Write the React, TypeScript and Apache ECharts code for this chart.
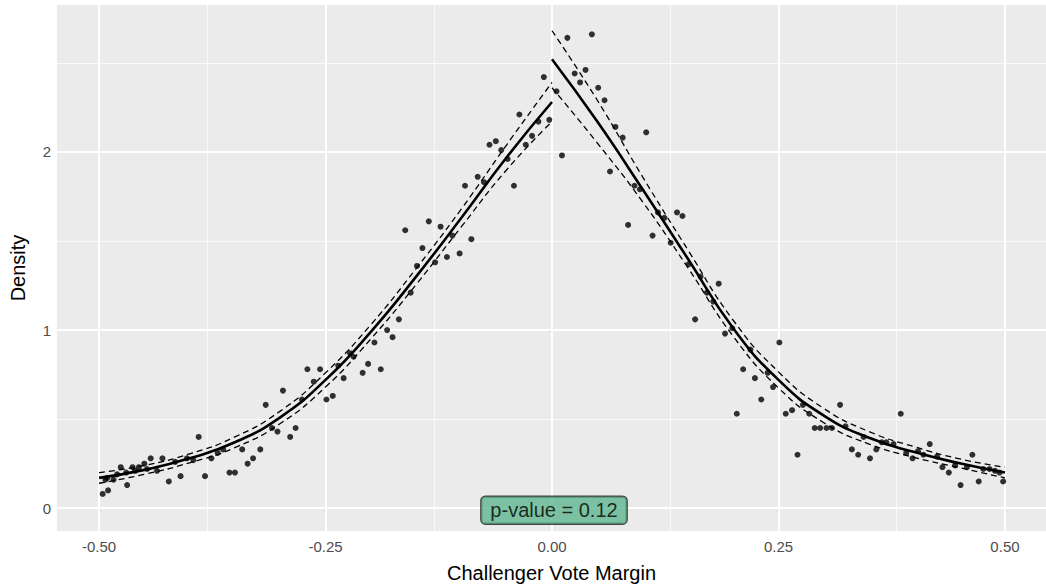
import React, { useEffect, useRef } from "react";
import * as echarts from "echarts";

// Binned density points (x = challenger vote margin, y = density)
const binX: number[] = [
  -0.496, -0.49, -0.493, -0.491, -0.484, -0.48, -0.476, -0.47, -0.469, -0.463, -0.46, -0.456, -0.45, -0.447,
  -0.443, -0.436, -0.43, -0.423, -0.416, -0.41, -0.403, -0.396, -0.39, -0.383, -0.376, -0.369, -0.363,
  -0.356, -0.35, -0.342, -0.336, -0.33, -0.322, -0.316, -0.309, -0.303, -0.297, -0.289, -0.283, -0.276,
  -0.27, -0.263, -0.256, -0.249, -0.242, -0.236, -0.23, -0.223, -0.219, -0.209, -0.203, -0.196, -0.189,
  -0.182, -0.176, -0.169, -0.162, -0.156, -0.149, -0.143, -0.136, -0.129, -0.123, -0.116, -0.11, -0.102,
  -0.096, -0.089, -0.082, -0.075, -0.069, -0.062, -0.056, -0.049, -0.042, -0.036, -0.029, -0.022, -0.015,
  -0.009, -0.003,
  0.005, 0.011, 0.017, 0.025, 0.031, 0.037, 0.044, 0.051, 0.058, 0.064, 0.07, 0.078, 0.084, 0.091, 0.097,
  0.104, 0.111, 0.117, 0.124, 0.131, 0.138, 0.144, 0.151, 0.158, 0.164, 0.171, 0.178, 0.184, 0.191, 0.199,
  0.204, 0.211, 0.219, 0.224, 0.231, 0.238, 0.244, 0.251, 0.258, 0.265, 0.271, 0.277, 0.284, 0.29, 0.296,
  0.303, 0.309, 0.318, 0.324, 0.331, 0.338, 0.344, 0.351, 0.358, 0.364, 0.369, 0.377, 0.385, 0.391, 0.398,
  0.404, 0.41, 0.417, 0.425, 0.431, 0.438, 0.445, 0.451, 0.458, 0.464, 0.471, 0.476, 0.483, 0.489, 0.494,
  0.498,
];
const binY: number[] = [
  0.08, 0.1, 0.16, 0.17, 0.16, 0.19, 0.23, 0.2, 0.13, 0.23, 0.21, 0.23, 0.25, 0.22,
  0.28, 0.21, 0.28, 0.15, 0.26, 0.18, 0.28, 0.27, 0.4, 0.18, 0.28, 0.31, 0.33,
  0.2, 0.2, 0.33, 0.25, 0.28, 0.33, 0.58, 0.45, 0.43, 0.66, 0.4, 0.45, 0.61,
  0.78, 0.71, 0.78, 0.61, 0.63, 0.8, 0.73, 0.87, 0.85, 0.76, 0.81, 0.93, 0.78,
  1.0, 0.96, 1.06, 1.56, 1.21, 1.36, 1.46, 1.61, 1.38, 1.58, 1.41, 1.53, 1.43,
  1.81, 1.51, 1.86, 1.83, 2.04, 2.06, 2.01, 1.96, 1.81, 2.21, 2.04, 2.09, 2.17,
  2.42, 2.18,
  2.34, 1.98, 2.64, 2.44, 2.39, 2.46, 2.66, 2.36, 2.29, 1.89, 2.14, 2.08, 1.59, 1.81, 1.79,
  2.11, 1.53, 1.66, 1.63, 1.49, 1.66, 1.64, 1.37, 1.06, 1.3, 1.21, 1.16, 1.26, 0.98, 1.01,
  0.53, 0.78, 0.89, 0.73, 0.61, 0.76, 0.68, 0.93, 0.53, 0.55, 0.3, 0.58, 0.53, 0.45, 0.45,
  0.45, 0.45, 0.58, 0.46, 0.33, 0.3, 0.4, 0.28, 0.33, 0.37, 0.37, 0.36, 0.53, 0.31, 0.28,
  0.32, 0.3, 0.36, 0.29, 0.23, 0.2, 0.24, 0.13, 0.23, 0.3, 0.15, 0.22, 0.22, 0.21, 0.2,
  0.15,
];

// Fitted curves and confidence bands, left and right of the cutoff
const leftFitX: number[] = [-0.5, -0.45, -0.4, -0.35, -0.3, -0.25, -0.2, -0.15, -0.1, -0.05, 0];
const leftFit: number[] = [0.17, 0.215, 0.28, 0.37, 0.51, 0.72, 0.99, 1.3, 1.63, 1.97, 2.28];
const leftUpper: number[] = [0.2, 0.24, 0.305, 0.4, 0.545, 0.76, 1.03, 1.345, 1.68, 2.04, 2.39];
const leftLower: number[] = [0.14, 0.19, 0.255, 0.34, 0.475, 0.68, 0.95, 1.255, 1.58, 1.9, 2.17];

const rightFitX: number[] = [0, 0.05, 0.1, 0.15, 0.2, 0.25, 0.3, 0.35, 0.4, 0.45, 0.5];
const rightFit: number[] = [2.52, 2.17, 1.79, 1.4, 1.01, 0.72, 0.52, 0.395, 0.315, 0.252, 0.2];
const rightUpper: number[] = [2.68, 2.29, 1.86, 1.45, 1.055, 0.765, 0.56, 0.43, 0.345, 0.277, 0.23];
const rightLower: number[] = [2.36, 2.05, 1.72, 1.35, 0.965, 0.675, 0.48, 0.36, 0.285, 0.227, 0.17];

// Axis ticks
const xTicks: number[] = [-0.5, -0.25, 0, 0.25, 0.5];
const xMinor: number[] = [-0.375, -0.125, 0.125, 0.375];
const yTicks: number[] = [0, 1, 2];
const yMinor: number[] = [0.5, 1.5, 2.5];

const pLabel = "p-value = 0.12";
const pLabelPos: number[] = [0, 0];

const FONT = "'Liberation Sans', Arial, Helvetica, sans-serif";

export default function App() {
  const ref = useRef<HTMLDivElement>(null);
  useEffect(() => {
    if (!ref.current) return;
    const chart = echarts.init(ref.current, undefined, { renderer: "svg" });
    const pair = (xs: number[], ys: number[]) => xs.map((x, i) => [x, ys[i]]);
    const fitLine = (name: string, xs: number[], ys: number[], dashed: boolean) => ({
      name,
      type: "line",
      data: pair(xs, ys),
      smooth: 0.5,
      symbol: "none",
      silent: true,
      z: 4,
      lineStyle: dashed
        ? { color: "#000", width: 1.3, type: [6, 4] }
        : { color: "#000", width: 2.6, type: "solid" },
    });
    const option: any = {
      animation: false,
      backgroundColor: "#ffffff",
      textStyle: { fontFamily: FONT },
      grid: {
        left: 57,
        right: 0,
        top: 5,
        bottom: 53,
        show: true,
        backgroundColor: "#ebebeb",
        borderWidth: 0,
      },
      xAxis: {
        type: "value",
        min: -0.5464,
        max: 0.5453,
        name: "Challenger Vote Margin",
        nameLocation: "middle",
        nameGap: 32,
        nameTextStyle: { color: "#000", fontSize: 20, fontFamily: FONT },
        axisLine: { show: false },
        splitLine: { show: false },
        axisTick: {
          show: true,
          length: 4,
          customValues: xTicks,
          lineStyle: { color: "#333", width: 1.2 },
        },
        axisLabel: {
          customValues: xTicks,
          formatter: (v: number) => v.toFixed(2),
          color: "#4d4d4d",
          fontSize: 15,
          margin: 8,
          fontFamily: FONT,
        },
      },
      yAxis: {
        type: "value",
        min: -0.128,
        max: 2.8245,
        name: "Density",
        nameLocation: "middle",
        nameRotate: 90,
        nameGap: 29,
        nameTextStyle: { color: "#000", fontSize: 20, fontFamily: FONT },
        axisLine: { show: false },
        splitLine: { show: false },
        axisTick: {
          show: true,
          length: 4,
          customValues: yTicks,
          lineStyle: { color: "#333", width: 1.2 },
        },
        axisLabel: {
          customValues: yTicks,
          color: "#4d4d4d",
          fontSize: 15,
          margin: 6,
          fontFamily: FONT,
        },
      },
      series: [
        {
          name: "grid",
          type: "line",
          data: [],
          silent: true,
          z: 1,
          markLine: {
            silent: true,
            symbol: ["none", "none"],
            label: { show: false },
            z: 1,
            animation: false,
            data: [
              ...xMinor.map((v) => ({ xAxis: v, lineStyle: { color: "#fafafa", width: 1, type: "solid" } })),
              ...yMinor.map((v) => ({ yAxis: v, lineStyle: { color: "#fafafa", width: 1, type: "solid" } })),
              ...xTicks.map((v) => ({ xAxis: v, lineStyle: { color: "#ffffff", width: 2, type: "solid" } })),
              ...yTicks.map((v) => ({ yAxis: v, lineStyle: { color: "#ffffff", width: 2, type: "solid" } })),
            ],
          },
        },
        {
          name: "bins",
          type: "scatter",
          data: pair(binX, binY),
          symbol: "circle",
          symbolSize: 6,
          silent: true,
          z: 3,
          itemStyle: { color: "#000" },
        },
        fitLine("leftFit", leftFitX, leftFit, false),
        fitLine("leftUpper", leftFitX, leftUpper, true),
        fitLine("leftLower", leftFitX, leftLower, true),
        fitLine("rightFit", rightFitX, rightFit, false),
        fitLine("rightUpper", rightFitX, rightUpper, true),
        fitLine("rightLower", rightFitX, rightLower, true),
        {
          name: "pvalue",
          type: "scatter",
          data: [pLabelPos],
          symbolSize: 1,
          silent: true,
          z: 6,
          itemStyle: { color: "rgba(0,0,0,0)" },
          label: {
            show: true,
            position: "inside",
            offset: [2, 2],
            formatter: pLabel,
            color: "#000",
            fontSize: 20,
            fontFamily: FONT,
            backgroundColor: "#5fb68f",
            borderColor: "#1a1a1a",
            borderWidth: 1.2,
            borderRadius: 4,
            padding: [4, 9, 3, 9],
          },
        },
      ],
    };
    chart.setOption(option);
    return () => chart.dispose();
  }, []);
  return (
    <div
      ref={ref}
      style={{ position: "absolute", left: 0, top: 0, width: 1046, height: 588, background: "#fff" }}
    />
  );
}
